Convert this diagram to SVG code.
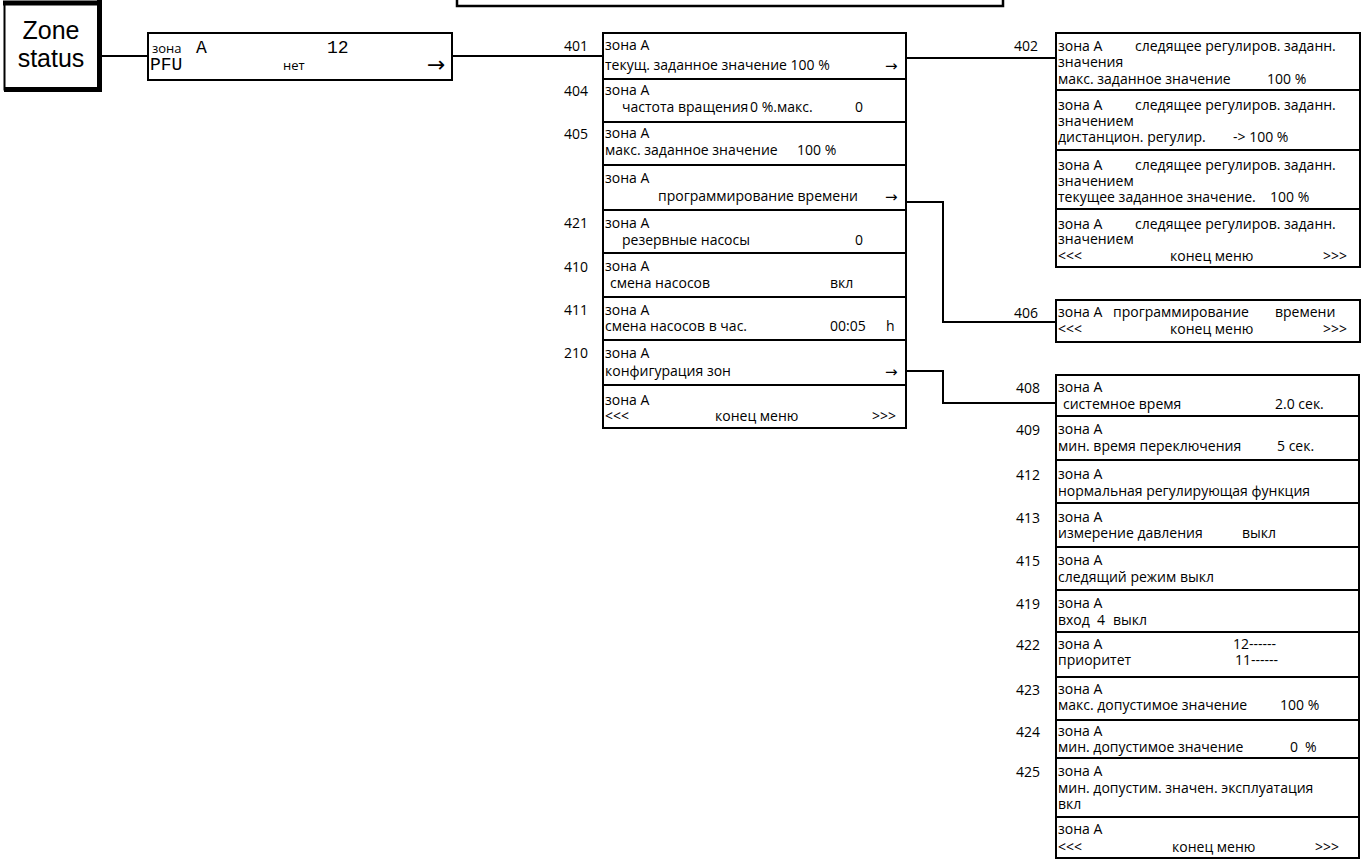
<svg xmlns="http://www.w3.org/2000/svg" width="1365" height="861" viewBox="0 0 1365 861">
<style>
.bx{fill:#fff;stroke:#000;stroke-width:2}
.t{font-family:"Open Sans","Noto Sans","DejaVu Sans",sans-serif;font-size:14px;fill:#000}
.lb{font-family:"Open Sans","Noto Sans","DejaVu Sans",sans-serif;font-size:14px;fill:#000;text-anchor:end}
.m{font-family:"Liberation Mono","DejaVu Sans Mono",monospace;font-size:18px;fill:#000}
.ar{font-family:"DejaVu Sans",sans-serif;font-size:15px;fill:#000}
.zs{font-family:"Liberation Sans",Arial,sans-serif;font-size:25px;fill:#000;text-anchor:middle}
.c{fill:none;stroke:#000;stroke-width:2}
</style>
<g id="topbox"><rect x="457" y="-20" width="546" height="26" fill="none" stroke="#000" stroke-width="2.5"/></g>
<g id="connectors">
<path class="c" d="M101 56H148"/>
<path class="c" d="M452 56H603"/>
<path class="c" d="M906 58H1056"/>
<path class="c" d="M906 202H943V322H1056"/>
<path class="c" d="M906 371H943V403H1056"/>
</g>
<g id="zone-status">
<rect x="4.5" y="2.5" width="95" height="87" fill="#fff" stroke="#000" stroke-width="2"/>
<path d="M3 3H102M99.5 0V91M4 89.5H102" fill="none" stroke="#000" stroke-width="5"/>
<text class="zs" x="51" y="39">Zone</text>
<text class="zs" x="51" y="67">status</text>
</g>
<g id="n-pfu">
<rect class="bx" x="148" y="33" width="304" height="47"/>
<text class="t" x="152" y="53" style="font-size:13px">зона</text>
<text class="m" x="196" y="53">A</text>
<text class="m" x="327" y="53">12</text>
<text class="m" x="150" y="70">PFU</text>
<text class="t" x="283" y="70" style="font-size:13px">нет</text>
<text class="ar" x="427" y="72" style="font-size:22px">→</text>
</g>
<g id="n401"><rect class="bx" x="603" y="33" width="303" height="46"/><text class="lb" x="588" y="51">401</text>
<text class="t" x="605" y="49.5">зона A</text><text class="t" x="605" y="70">текущ. заданное значение 100 %</text><text class="ar" x="885" y="70.5">→</text></g>
<g id="n404"><rect class="bx" x="603" y="79" width="303" height="43"/><text class="lb" x="588" y="96">404</text>
<text class="t" x="605" y="95">зона A</text><text class="t" y="111.5"><tspan x="622">частота вращения</tspan><tspan x="750">0 %.макс.</tspan><tspan x="855">0</tspan></text></g>
<g id="n405"><rect class="bx" x="603" y="122" width="303" height="43"/><text class="lb" x="588" y="139">405</text>
<text class="t" x="605" y="138">зона A</text><text class="t" y="155"><tspan x="605">макс. заданное значение</tspan><tspan x="797">100 %</tspan></text></g>
<g id="n-prog"><rect class="bx" x="603" y="165" width="303" height="45"/>
<text class="t" x="605" y="182.5">зона A</text><text class="t" x="658" y="201">программирование времени</text><text class="ar" x="885" y="201.5">→</text></g>
<g id="n421"><rect class="bx" x="603" y="210" width="303" height="43"/><text class="lb" x="588" y="228">421</text>
<text class="t" x="605" y="227.5">зона A</text><text class="t" y="244.5"><tspan x="622">резервные насосы</tspan><tspan x="855">0</tspan></text></g>
<g id="n410"><rect class="bx" x="603" y="253" width="303" height="44"/><text class="lb" x="588" y="272">410</text>
<text class="t" x="605" y="271">зона A</text><text class="t" y="287.5"><tspan x="610">смена насосов</tspan><tspan x="830">вкл</tspan></text></g>
<g id="n411"><rect class="bx" x="603" y="297" width="303" height="43"/><text class="lb" x="588" y="315">411</text>
<text class="t" x="605" y="314.5">зона A</text><text class="t" y="331"><tspan x="605">смена насосов в час.</tspan><tspan x="830">00:05</tspan><tspan x="886">h</tspan></text></g>
<g id="n210"><rect class="bx" x="603" y="340" width="303" height="45"/><text class="lb" x="588" y="358">210</text>
<text class="t" x="605" y="357.5">зона A</text><text class="t" x="605" y="376">конфигурация зон</text><text class="ar" x="885" y="376.5">→</text></g>
<g id="n-end1"><rect class="bx" x="603" y="385" width="303" height="43"/>
<text class="t" x="605" y="404.5">зона A</text><text class="t" y="421"><tspan x="605">&lt;&lt;&lt;</tspan><tspan x="715">конец меню</tspan><tspan x="872">&gt;&gt;&gt;</tspan></text></g>

<g id="n402"><rect class="bx" x="1056" y="33" width="304" height="57"/><text class="lb" x="1038" y="51">402</text>
<text class="t" y="51"><tspan x="1058">зона A</tspan><tspan x="1135">следящее регулиров. заданн.</tspan></text><text class="t" x="1058" y="67">значения</text><text class="t" y="84"><tspan x="1058">макс. заданное значение</tspan><tspan x="1267">100 %</tspan></text></g>
<g id="n402b"><rect class="bx" x="1056" y="90" width="304" height="60"/>
<text class="t" y="110"><tspan x="1058">зона A</tspan><tspan x="1135">следящее регулиров. заданн.</tspan></text><text class="t" x="1058" y="126">значением</text><text class="t" y="142"><tspan x="1058">дистанцион. регулир.</tspan><tspan x="1233">-&gt; 100 %</tspan></text></g>
<g id="n402c"><rect class="bx" x="1056" y="150" width="304" height="59"/>
<text class="t" y="170"><tspan x="1058">зона A</tspan><tspan x="1135">следящее регулиров. заданн.</tspan></text><text class="t" x="1058" y="186">значением</text><text class="t" y="202"><tspan x="1058">текущее заданное значение.</tspan><tspan x="1270">100 %</tspan></text></g>
<g id="n402d"><rect class="bx" x="1056" y="209" width="304" height="58"/>
<text class="t" y="229"><tspan x="1058">зона A</tspan><tspan x="1135">следящее регулиров. заданн.</tspan></text><text class="t" x="1058" y="244">значением</text><text class="t" y="261"><tspan x="1058">&lt;&lt;&lt;</tspan><tspan x="1170">конец меню</tspan><tspan x="1323">&gt;&gt;&gt;</tspan></text></g>

<g id="n406"><rect class="bx" x="1056" y="300" width="304" height="42"/><text class="lb" x="1038" y="318">406</text>
<text class="t" y="317"><tspan x="1058">зона A</tspan><tspan x="1113">программирование</tspan><tspan x="1275">времени</tspan></text><text class="t" y="334"><tspan x="1058">&lt;&lt;&lt;</tspan><tspan x="1170">конец меню</tspan><tspan x="1323">&gt;&gt;&gt;</tspan></text></g>

<g id="n408"><rect class="bx" x="1056" y="375" width="303" height="41"/><text class="lb" x="1040" y="393">408</text>
<text class="t" x="1058" y="392">зона A</text><text class="t" y="409"><tspan x="1063">системное время</tspan><tspan x="1275">2.0 сек.</tspan></text></g>
<g id="n409"><rect class="bx" x="1056" y="416" width="303" height="44"/><text class="lb" x="1040" y="435">409</text>
<text class="t" x="1058" y="434">зона A</text><text class="t" y="451"><tspan x="1058">мин. время переключения</tspan><tspan x="1277">5 сек.</tspan></text></g>
<g id="n412"><rect class="bx" x="1056" y="460" width="303" height="43"/><text class="lb" x="1040" y="480">412</text>
<text class="t" x="1058" y="479">зона A</text><text class="t" x="1058" y="496">нормальная регулирующая функция</text></g>
<g id="n413"><rect class="bx" x="1056" y="503" width="303" height="44"/><text class="lb" x="1040" y="523">413</text>
<text class="t" x="1058" y="522">зона A</text><text class="t" y="538"><tspan x="1058">измерение давления</tspan><tspan x="1242">выкл</tspan></text></g>
<g id="n415"><rect class="bx" x="1056" y="547" width="303" height="43"/><text class="lb" x="1040" y="566">415</text>
<text class="t" x="1058" y="565">зона A</text><text class="t" x="1058" y="582">следящий режим выкл</text></g>
<g id="n419"><rect class="bx" x="1056" y="590" width="303" height="42"/><text class="lb" x="1040" y="609">419</text>
<text class="t" x="1058" y="608">зона A</text><text class="t" y="625"><tspan x="1058">вход</tspan><tspan x="1097">4</tspan><tspan x="1113">выкл</tspan></text></g>
<g id="n422"><rect class="bx" x="1056" y="632" width="303" height="45"/><text class="lb" x="1040" y="650">422</text>
<text class="t" y="649"><tspan x="1058">зона A</tspan><tspan x="1233">12------</tspan></text><text class="t" y="665"><tspan x="1058">приоритет</tspan><tspan x="1235">11------</tspan></text></g>
<g id="n423"><rect class="bx" x="1056" y="677" width="303" height="43"/><text class="lb" x="1040" y="695">423</text>
<text class="t" x="1058" y="694">зона A</text><text class="t" y="710"><tspan x="1058">макс. допустимое значение</tspan><tspan x="1280">100 %</tspan></text></g>
<g id="n424"><rect class="bx" x="1056" y="720" width="303" height="38"/><text class="lb" x="1040" y="737">424</text>
<text class="t" x="1058" y="736">зона A</text><text class="t" y="752"><tspan x="1058">мин. допустимое значение</tspan><tspan x="1290">0</tspan><tspan x="1305">%</tspan></text></g>
<g id="n425"><rect class="bx" x="1056" y="758" width="303" height="59"/><text class="lb" x="1040" y="777">425</text>
<text class="t" x="1058" y="776">зона A</text><text class="t" x="1058" y="793">мин. допустим. значен. эксплуатация</text><text class="t" x="1058" y="809">вкл</text></g>
<g id="n-end2"><rect class="bx" x="1056" y="817" width="303" height="41"/>
<text class="t" x="1058" y="834">зона A</text><text class="t" y="852"><tspan x="1058">&lt;&lt;&lt;</tspan><tspan x="1172">конец меню</tspan><tspan x="1315">&gt;&gt;&gt;</tspan></text></g>
</svg>
